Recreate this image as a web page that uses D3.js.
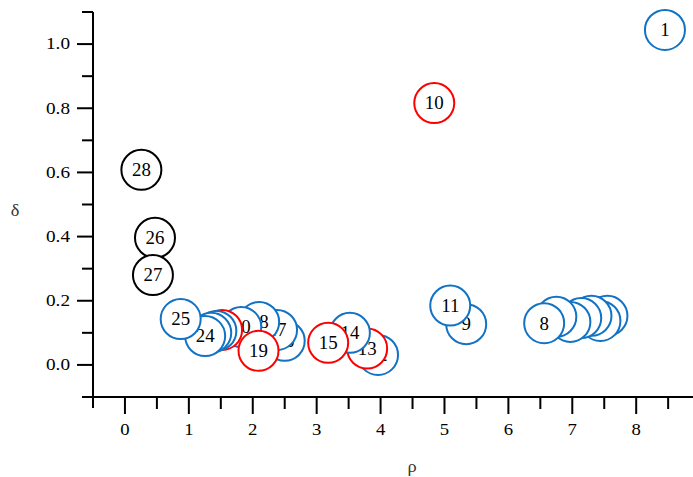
<!DOCTYPE html>
<html>
<head>
<meta charset="utf-8">
<script src="https://cdn.jsdelivr.net/npm/d3@7"></script>
<style>
  html, body { margin: 0; padding: 0; background: #fff; }
  svg { display: block; }
  text { font-family: "Liberation Serif", "DejaVu Serif", serif; }
</style>
</head>
<body>
<svg id="chart" width="693" height="477"></svg>
<script>
// Decision-graph points: local density (rho) against distance (delta).
// Listed in the order they are painted, so later circles sit on top.
const pointLabels = [1, 2, 3, 4, 5, 6, 7, 8, 9, 10, 11, 12, 13, 14, 15, 16, 17, 18, 20, 21, 22, 23, 24, 19, 25, 26, 27, 28];
const rhoValues   = [8.45, 7.55, 7.44, 7.30, 7.14, 6.97, 6.75, 6.56, 5.34, 4.84, 5.09, 3.96, 3.79, 3.52, 3.18, 2.50, 2.38, 2.10, 1.82, 1.52, 1.43, 1.35, 1.255, 2.09, 0.872, 0.47, 0.438, 0.257];
const deltaValues = [1.044, 0.153, 0.137, 0.153, 0.146, 0.134, 0.150, 0.130, 0.127, 0.816, 0.185, 0.031, 0.051, 0.100, 0.069, 0.075, 0.109, 0.134, 0.118, 0.109, 0.106, 0.100, 0.090, 0.044, 0.143, 0.396, 0.280, 0.608];
const pointGroups = ["b", "b", "b", "b", "b", "b", "b", "b", "b", "r", "b", "b", "r", "b", "r", "b", "b", "b", "b", "r", "b", "b", "b", "r", "b", "k", "k", "k"];

// Axis ticks
const xMajorTicks = [0, 1, 2, 3, 4, 5, 6, 7, 8];
const xMinorTicks = [0.5, 1.5, 2.5, 3.5, 4.5, 5.5, 6.5, 7.5, 8.5];
const yMajorTicks = [0.0, 0.2, 0.4, 0.6, 0.8, 1.0];
const yMinorTicks = [0.1, 0.3, 0.5, 0.7, 0.9, 1.1];

const groupColor = { b: "#1272c4", r: "#ff0000", k: "#000000" };

const svg = d3.select("#chart");

const x = d3.scaleLinear().domain([-0.5, 9]).range([93, 700.1]);
const y = d3.scaleLinear().domain([-0.1, 1.1]).range([397, 12]);

const axisColor = "#000";
const axisG = svg.append("g");

// axis spines, each running a little past the crossing point
axisG.append("line")
  .attr("x1", x(-0.5)).attr("x2", x(-0.5))
  .attr("y1", y(1.1)).attr("y2", y(-0.1) + 11)
  .attr("stroke", axisColor).attr("stroke-width", 2);
axisG.append("line")
  .attr("x1", x(-0.5) - 11).attr("x2", x(9))
  .attr("y1", y(-0.1)).attr("y2", y(-0.1))
  .attr("stroke", axisColor).attr("stroke-width", 2);

// y ticks
axisG.selectAll(".ymaj").data(yMajorTicks).enter().append("line")
  .attr("x1", x(-0.5) - 16).attr("x2", x(-0.5))
  .attr("y1", d => y(d)).attr("y2", d => y(d))
  .attr("stroke", axisColor).attr("stroke-width", 2);
axisG.selectAll(".ymin").data(yMinorTicks).enter().append("line")
  .attr("x1", x(-0.5) - 11).attr("x2", x(-0.5))
  .attr("y1", d => y(d)).attr("y2", d => y(d))
  .attr("stroke", axisColor).attr("stroke-width", 2);

// x ticks
axisG.selectAll(".xmaj").data(xMajorTicks).enter().append("line")
  .attr("x1", d => x(d)).attr("x2", d => x(d))
  .attr("y1", y(-0.1)).attr("y2", y(-0.1) + 17)
  .attr("stroke", axisColor).attr("stroke-width", 2);
axisG.selectAll(".xmin").data(xMinorTicks).enter().append("line")
  .attr("x1", d => x(d)).attr("x2", d => x(d))
  .attr("y1", y(-0.1)).attr("y2", y(-0.1) + 12)
  .attr("stroke", axisColor).attr("stroke-width", 2);

// tick labels (the glyphs are drawn slightly wide)
const fmt = d3.format(".1f");
axisG.selectAll(".ylab").data(yMajorTicks).enter().append("text")
  .attr("transform", d => `translate(${x(-0.5) - 23},${y(d)}) scale(1.2,1)`)
  .attr("dy", "0.33em")
  .attr("text-anchor", "end")
  .attr("font-size", 16)
  .attr("fill", "#000")
  .text(d => fmt(d));
axisG.selectAll(".xlab").data(xMajorTicks).enter().append("text")
  .attr("transform", d => `translate(${x(d)},${y(-0.1) + 38}) scale(1.1,1)`)
  .attr("text-anchor", "middle")
  .attr("font-size", 17)
  .attr("fill", "#000")
  .text(d => d);

// axis titles
svg.append("text")
  .attr("transform", `translate(15,211) scale(1.15,1)`)
  .attr("dy", "0.33em")
  .attr("text-anchor", "middle")
  .attr("font-size", 16)
  .attr("fill", "#333")
  .text("δ");
svg.append("text")
  .attr("transform", `translate(412,467) scale(1.15,1)`)
  .attr("dy", "0.33em")
  .attr("text-anchor", "middle")
  .attr("font-size", 16)
  .attr("fill", "#333")
  .text("ρ");

// labelled markers
const points = pointLabels.map((lab, i) => ({
  label: lab, rho: rhoValues[i], delta: deltaValues[i], group: pointGroups[i]
}));

const marks = svg.append("g").selectAll("g").data(points).enter().append("g")
  .attr("transform", d => `translate(${x(d.rho)},${y(d.delta)})`);

marks.append("circle")
  .attr("r", 20)
  .attr("fill", "#fff")
  .attr("stroke", d => groupColor[d.group])
  .attr("stroke-width", 2);

marks.append("text")
  .attr("transform", "scale(1.05,1)")
  .attr("text-anchor", "middle")
  .attr("dy", "0.35em")
  .attr("font-size", 18)
  .attr("fill", "#000")
  .text(d => d.label);
</script>
</body>
</html>
